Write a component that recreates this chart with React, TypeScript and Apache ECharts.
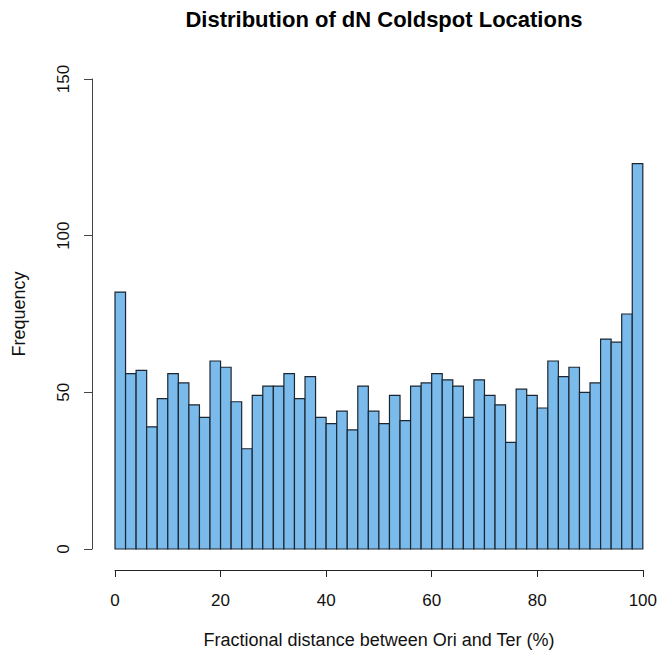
import React, { useEffect, useRef } from "react";
import * as echarts from "echarts";

// Histogram of coldspot positions along the Ori→Ter axis, 2% bins
const binWidth = 2;
const counts = [
  82, 56, 57, 39, 48, 56, 53, 46, 42, 60,
  58, 47, 32, 49, 52, 52, 56, 48, 55, 42,
  40, 44, 38, 52, 44, 40, 49, 41, 52, 53,
  56, 54, 52, 42, 54, 49, 46, 34, 51, 49,
  45, 60, 55, 58, 50, 53, 67, 66, 75, 123,
];
const xTicks = [0, 20, 40, 60, 80, 100];
const yTicks = [0, 50, 100, 150];

const titleText = "Distribution of dN Coldspot Locations";
const xTitle = "Fractional distance between Ori and Ter (%)";
const yTitle = "Frequency";

const FONT = "'Liberation Sans', Arial, Helvetica, sans-serif";

export default function App() {
  const ref = useRef<HTMLDivElement>(null);

  useEffect(() => {
    if (!ref.current) return;
    const chart = echarts.init(ref.current, undefined, { renderer: "svg" });

    const bins = counts.map((c, i) => [i * binWidth, (i + 1) * binWidth, c]);

    chart.setOption({
      animation: false,
      backgroundColor: "#ffffff",
      textStyle: { fontFamily: FONT },
      title: {
        text: titleText,
        left: 379,
        top: 3,
        textAlign: "center",
        textStyle: { fontFamily: FONT, fontWeight: "bold", fontSize: 22, color: "#000" },
      },
      grid: { left: 115, right: 17, top: 79, bottom: 107 },
      xAxis: {
        type: "value",
        min: xTicks[0],
        max: xTicks[xTicks.length - 1],
        interval: 20,
        offset: 21,
        axisLine: { show: true, onZero: false, lineStyle: { color: "#222", width: 1 } },
        axisTick: { show: true, length: 7, lineStyle: { color: "#222" } },
        axisLabel: { fontSize: 17, color: "#111", margin: 22, fontFamily: FONT },
        splitLine: { show: false },
      },
      yAxis: {
        type: "value",
        min: yTicks[0],
        max: yTicks[yTicks.length - 1],
        interval: 50,
        offset: 23,
        axisLine: { show: true, onZero: false, lineStyle: { color: "#444", width: 1 } },
        axisTick: { show: true, length: 8, lineStyle: { color: "#444" } },
        axisLabel: { fontSize: 17, color: "#111", margin: 20, rotate: 90, fontFamily: FONT },
        splitLine: { show: false },
      },
      graphic: [
        {
          type: "text",
          x: 379,
          y: 640,
          style: {
            text: xTitle,
            fontSize: 18,
            fontFamily: FONT,
            fill: "#111",
            align: "center",
            verticalAlign: "middle",
          },
        },
        {
          type: "text",
          x: 19,
          y: 314,
          rotation: Math.PI / 2,
          style: {
            text: yTitle,
            fontSize: 18,
            fontFamily: FONT,
            fill: "#111",
            align: "center",
            verticalAlign: "middle",
          },
        },
      ],
      series: [
        {
          type: "custom",
          data: bins,
          encode: { x: [0, 1], y: 2 },
          renderItem: (params: any, api: any) => {
            const p0 = api.coord([api.value(0), api.value(2)]);
            const p1 = api.coord([api.value(1), 0]);
            return {
              type: "rect",
              shape: { x: p0[0], y: p0[1], width: p1[0] - p0[0], height: p1[1] - p0[1] },
              style: { fill: "#7BBBEB", stroke: "#1c2630", lineWidth: 1.2 },
            };
          },
        },
      ],
    });

    return () => chart.dispose();
  }, []);

  return (
    <div
      ref={ref}
      style={{ position: "fixed", left: 0, top: 0, width: 660, height: 656, background: "#fff" }}
    />
  );
}
